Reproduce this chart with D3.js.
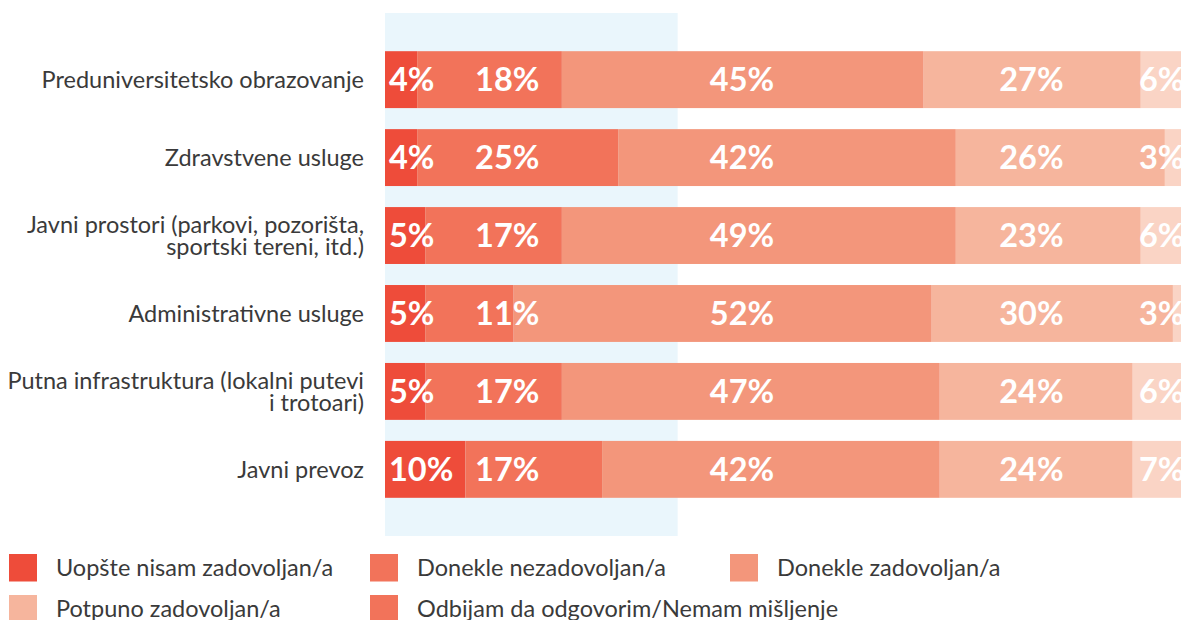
<!DOCTYPE html>
<html>
<head>
<meta charset="utf-8">
<script src="https://cdn.jsdelivr.net/npm/d3@7"></script>
<style>
  html, body { margin: 0; padding: 0; background: #ffffff; }
  svg { display: block; }
</style>
</head>
<body>
<svg id="chart" width="1181" height="620"></svg>
<script>
// Categories (each entry split into its display lines)
const categories = [
  ["Preduniversitetsko obrazovanje"],
  ["Zdravstvene usluge"],
  ["Javni prostori (parkovi, pozorišta,", "sportski tereni, itd.)"],
  ["Administrativne usluge"],
  ["Putna infrastruktura (lokalni putevi", "i trotoari)"],
  ["Javni prevoz"]
];

const seriesNames = [
  "Uopšte nisam zadovoljan/a",
  "Donekle nezadovoljan/a",
  "Donekle zadovoljan/a",
  "Potpuno zadovoljan/a",
  "Odbijam da odgovorim/Nemam mišljenje"
];

// Shares in percent, one array per answer
const uopsteNisam  = [4, 4, 5, 5, 5, 10];
const donekleNezad = [18, 25, 17, 11, 17, 17];
const donekleZad   = [45, 42, 49, 52, 47, 42];
const potpunoZad   = [27, 26, 23, 30, 24, 24];
const odbijam      = [6, 3, 6, 3, 6, 7];

const seriesValues = [uopsteNisam, donekleNezad, donekleZad, potpunoZad, odbijam];

// Styling
const barColors    = ["#EE4C3A", "#F2735A", "#F3967B", "#F6B59D", "#FAD4C5"];
const legendColors = ["#EE4C3A", "#F2735A", "#F3967B", "#F6B59D", "#F2735A"];
const bandColor = "#EAF6FC";
const textColor = "#3a3a3a";
const fontFamily = "Lato, 'Open Sans', sans-serif";
const labelFont = 23.5;

const svg = d3.select("#chart");

// Build rows for d3.stack
const keys = seriesNames;
const rows = categories.map((c, i) => {
  const r = { idx: i };
  keys.forEach((k, j) => { r[k] = seriesValues[j][i]; });
  return r;
});
const stacked = d3.stack().keys(keys)(rows);

const x = d3.scaleLinear().domain([0, 100]).range([385, 1189]);
const y = d3.scaleBand()
  .domain(d3.range(categories.length))
  .range([13, 536])
  .paddingInner(0.27)
  .paddingOuter(0.49);

const plot = svg.append("g");

// Light highlight band behind the left part of the bars
plot.append("rect")
  .attr("x", x(0))
  .attr("y", 13)
  .attr("width", x(36.4) - x(0))
  .attr("height", 536 - 13)
  .attr("fill", bandColor);

// Stacked segments
plot.selectAll("g.layer")
  .data(stacked)
  .join("g")
  .attr("class", "layer")
  .attr("fill", (d, i) => barColors[i])
  .selectAll("rect")
  .data(d => d)
  .join("rect")
  .attr("x", d => x(d[0]))
  .attr("y", d => y(d.data.idx))
  .attr("width", d => x(d[1]) - x(d[0]))
  .attr("height", y.bandwidth());

// Value labels sit in fixed columns, one per answer, drawn above all segments
const labelCols = [
  { at: 0.5, anchor: "start" },
  { at: 15.2, anchor: "middle" },
  { at: 44.4, anchor: "middle" },
  { at: 80.4, anchor: "middle" },
  { at: 96.6, anchor: "middle" }
];

const labels = svg.append("g");
stacked.forEach((s, si) => {
  labels.append("g")
    .selectAll("text")
    .data(s)
    .join("text")
    .attr("x", x(labelCols[si].at))
    .attr("y", d => y(d.data.idx) + y.bandwidth() / 2 + 11.8)
    .attr("text-anchor", labelCols[si].anchor)
    .attr("fill", "#ffffff")
    .style("font-family", fontFamily)
    .style("font-weight", 700)
    .style("font-size", "32.5px")
    .text(d => (d[1] - d[0]) + "%");
});

// Category labels, right aligned next to the bars
const cat = svg.append("g")
  .selectAll("text")
  .data(categories)
  .join("text")
  .attr("text-anchor", "end")
  .attr("fill", textColor)
  .style("font-family", fontFamily)
  .style("font-size", labelFont + "px");

cat.each(function (lines, i) {
  const cy = y(i) + y.bandwidth() / 2;
  const lh = 22.5;
  const top = cy - (lines.length - 1) * lh / 2;
  d3.select(this).selectAll("tspan")
    .data(lines)
    .join("tspan")
    .attr("x", 364)
    .attr("y", (d, k) => top + k * lh + 8.6)
    .text(d => d);
});

// Legend
const legendPos = [
  { x: 9, y: 554 }, { x: 370, y: 554 }, { x: 730, y: 554 },
  { x: 9, y: 595 }, { x: 370, y: 595 }
];
const legend = svg.append("g")
  .selectAll("g")
  .data(seriesNames)
  .join("g")
  .attr("transform", (d, i) => `translate(${legendPos[i].x},${legendPos[i].y})`);

legend.append("rect")
  .attr("width", 28)
  .attr("height", 27.5)
  .attr("fill", (d, i) => legendColors[i]);

legend.append("text")
  .attr("x", 47)
  .attr("y", 22)
  .attr("fill", textColor)
  .style("font-family", fontFamily)
  .style("font-size", labelFont + "px")
  .text(d => d);
</script>
</body>
</html>
